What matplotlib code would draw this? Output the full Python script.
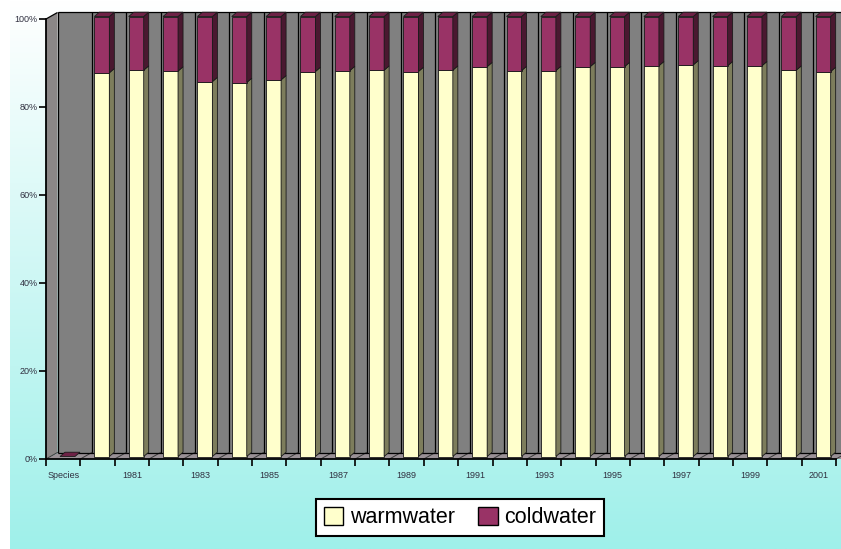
import numpy as np
import matplotlib
matplotlib.use("Agg")
import matplotlib.pyplot as plt
from matplotlib.patches import Polygon, Patch

plt.rcParams['font.family'] = ['Liberation Sans', 'DejaVu Sans']

# ---- data -------------------------------------------------------------
categories = ["Species", "1980", "1981", "1982", "1983", "1984", "1985", "1986",
              "1987", "1988", "1989", "1990", "1991", "1992", "1993", "1994",
              "1995", "1996", "1997", "1998", "1999", "2000", "2001"]
warmwater = [0, 87.2, 87.8, 87.6, 85.2, 85.0, 85.6, 87.5, 87.7, 87.8, 87.5,
             87.8, 88.6, 87.7, 87.7, 88.6, 88.6, 88.8, 89.0, 88.8, 88.8, 87.8, 87.5]
coldwater = [0, 12.8, 12.2, 12.4, 14.8, 15.0, 14.4, 12.5, 12.3, 12.2, 12.5,
             12.2, 11.4, 12.3, 12.3, 11.4, 11.4, 11.2, 11.0, 11.2, 11.2, 12.2, 12.5]
series_names = ["warmwater", "coldwater"]
y_ticks = [0, 20, 40, 60, 80, 100]
y_tick_labels = ["0%", "20%", "40%", "60%", "80%", "100%"]
shown_labels = categories[::2]

# ---- colours ----------------------------------------------------------
WARM = dict(front="#ffffcc", side="#7d7d5c", top="#e6e6b0")
COLD = dict(front="#993366", side="#4a1830", top="#6e2246")
WALL = "#808080"
SIDE_WALL = "#8b8787"
FLOOR = "#9a9196"

W, H, DPI = 841, 549, 100
fig = plt.figure(figsize=(W / DPI, H / DPI), dpi=DPI)
fig.patch.set_facecolor("white")

# gradient backdrop panel
bg = fig.add_axes([10 / W, 0, (W - 10) / W, 1])
grad = np.linspace(0, 1, 256)[:, None]
top_c = np.array([1.0, 1.0, 1.0])
bot_c = np.array([159, 240, 234]) / 255
img = top_c[None, None, :] * (1 - grad[..., None]) + bot_c[None, None, :] * grad[..., None]
img = np.repeat(img, 2, axis=1)
bg.imshow(img, aspect="auto", extent=[0, 1, 0, 1], origin="upper")
bg.set_axis_off()

# plot axes: x in category units, y in percent
n = len(categories)
x0_px, x1_px = 46, 836
y0_px, y1_px = 459, 19
ax = fig.add_axes([x0_px / W, (H - y0_px) / H, (x1_px - x0_px) / W, (y0_px - y1_px) / H])
ax.set_xlim(0, n)
ax.set_ylim(0, 100)
ax.patch.set_alpha(0)

px_x = (x1_px - x0_px) / n      # pixels per category
px_y = (y0_px - y1_px) / 100    # pixels per percent

def dx(p):
    return p / px_x

def dy(p):
    return p / px_y

DXW, DYW = dx(11.5), dy(6.5)     # wall depth
DXB, DYB = dx(5), dy(4.3)        # bar depth
BAR_OFF, BAR_W = dx(14), dx(15)  # bar front face position/width within category
BASE = dy(2.5)                   # bar base raise

def poly(pts, fc, ec="none", lw=0.0, z=1):
    ax.add_patch(Polygon(pts, closed=True, facecolor=fc, edgecolor=ec,
                         linewidth=lw, zorder=z, clip_on=False, joinstyle="miter"))

right = n + DXW + 1
# back wall, side wall, floor
poly([(DXW, DYW), (right, DYW), (right, 100 + DYW), (DXW, 100 + DYW)], WALL, z=0.5)
poly([(0, 0), (DXW, DYW), (DXW, 100 + DYW), (0, 100)], SIDE_WALL, z=0.6)
poly([(0, 0), (right, 0), (right, DYW), (DXW, DYW)], FLOOR, z=0.6)

lk = dict(color="black", lw=0.9, zorder=0.8, clip_on=False, solid_capstyle="butt")
for k in range(n + 1):
    ax.plot([k + DXW, k + DXW], [DYW, 100 + DYW], **lk)
    ax.plot([k, k + DXW], [0, DYW], color="#3a3a3a", lw=0.7, zorder=0.8, clip_on=False)
ax.plot([DXW, right], [DYW, DYW], **lk)
ax.plot([DXW, right], [100 + DYW, 100 + DYW], **lk)
ax.plot([0, DXW], [100, 100 + DYW], **lk)

# 3-D style stacked 100% columns
EC, ELW = "#1a1a1a", 0.6
for i, (w, c) in enumerate(zip(warmwater, coldwater)):
    total = w + c
    xl = i + BAR_OFF
    xr = xl + BAR_W
    z = 2 + i * 0.01
    if total == 0:
        b = BASE
        poly([(xl, b), (xr, b), (xr + DXB, b + DYB), (xl + DXB, b + DYB)],
             COLD["top"], EC, ELW, z)
        continue
    segs = [(0, w / total * 100, WARM), (w / total * 100, 100, COLD)]
    for s, (lo, hi, col) in enumerate(segs):
        b, t = lo + BASE, hi + BASE
        poly([(xl, b), (xr, b), (xr, t), (xl, t)], col["front"], EC, ELW, z)
        poly([(xr, b), (xr + DXB, b + DYB), (xr + DXB, t + DYB), (xr, t)],
             col["side"], EC, ELW, z)
        if s == len(segs) - 1:
            poly([(xl, t), (xr, t), (xr + DXB, t + DYB), (xl + DXB, t + DYB)],
                 col["top"], EC, ELW, z)

# axes styling
for sp in ("top", "right"):
    ax.spines[sp].set_visible(False)
for sp in ("left", "bottom"):
    ax.spines[sp].set_linewidth(1.3)
    ax.spines[sp].set_color("black")
    ax.spines[sp].set_zorder(5)

ax.set_yticks(y_ticks)
ax.set_yticklabels(y_tick_labels)
ax.tick_params(axis="y", direction="out", length=5, width=1.2, pad=1,
               labelsize=6.5, labelcolor="#303040")

ax.set_xticks(np.arange(n + 1))
ax.set_xticklabels([])
ax.tick_params(axis="x", which="major", direction="out", length=5, width=1.2)
ax.set_xticks(np.arange(0, n, 2) + 0.5, minor=True)
ax.set_xticklabels(shown_labels, minor=True)
ax.tick_params(axis="x", which="minor", length=0, pad=9,
               labelsize=6.5, labelcolor="#303040")

handles = [Patch(facecolor=WARM["front"], edgecolor="black", linewidth=1.0),
           Patch(facecolor=COLD["front"], edgecolor="black", linewidth=1.0)]
leg = fig.legend(handles, series_names, loc="center",
                 bbox_to_anchor=(460 / W, 1 - 517.5 / H), ncol=2, frameon=True,
                 fancybox=False, edgecolor="black", facecolor="white",
                 framealpha=1, fontsize=15.5, handlelength=0.9, handleheight=0.9,
                 handletextpad=0.3, columnspacing=1.1, borderpad=0.35)
leg.get_frame().set_linewidth(1.5)

fig.savefig("out.png", dpi=DPI)
